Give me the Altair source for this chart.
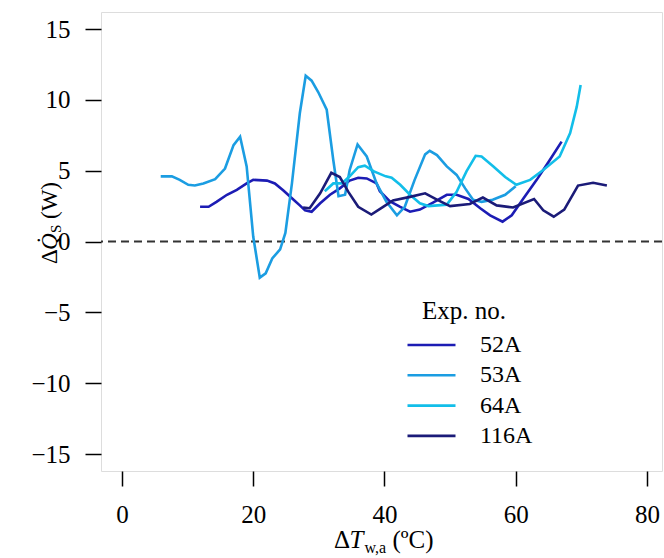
import altair as alt
import pandas as pd

series_names = ["52A", "53A", "64A", "116A"]
series_colors = ["#1c1cb4", "#1b9de2", "#12bee9", "#1b1b78"]

x_52A = [11.9, 13.2, 14.4, 16.0, 17.5, 19.0, 20.0, 22.1, 23.3, 24.6, 25.9, 27.1, 27.9, 28.9,
         30.2, 31.7, 33.2, 34.7, 36.0, 37.3, 38.8, 39.3, 40.8, 42.4, 43.9, 45.4, 47.4, 49.5,
         51.0, 52.8, 54.6, 56.1, 58.0, 59.4, 61.2, 63.2, 65.2, 67.0]
y_52A = [2.45, 2.45, 2.8, 3.3, 3.65, 4.1, 4.35, 4.3, 4.1, 3.6, 3.05, 2.55, 2.2, 2.1,
         2.7, 3.3, 3.75, 4.3, 4.5, 4.45, 4.1, 3.55, 2.85, 2.45, 2.1, 2.25, 2.75, 3.3,
         3.3, 3.0, 2.35, 1.85, 1.4, 1.85, 3.05, 4.35, 5.75, 7.05]

x_53A = [5.9, 7.6, 8.8, 10.1, 11.1, 12.4, 14.2, 15.7, 17.0, 18.0, 19.0, 20.0, 21.0, 21.9,
         22.9, 24.1, 24.9, 25.9, 27.1, 28.0, 28.9, 29.9, 31.2, 32.2, 33.0, 34.0, 34.7,
         35.9, 37.3, 38.8, 40.3, 41.9, 43.1, 44.6, 46.2, 46.9, 48.0, 49.5, 51.0, 52.3,
         53.5, 54.8, 56.5, 58.4, 60.0]
y_53A = [4.6, 4.6, 4.35, 4.0, 3.95, 4.1, 4.4, 5.15, 6.8, 7.4, 5.3, 0.35, -2.55, -2.25,
         -1.2, -0.55, 0.6, 4.1, 9.05, 11.7, 11.35, 10.55, 9.3, 5.75, 3.2, 3.3, 5.05,
         6.85, 6.0, 4.1, 2.8, 1.85, 2.45, 4.35, 6.15, 6.4, 6.1, 5.3, 4.7, 3.75,
         2.95, 2.8, 2.95, 3.3, 3.9]

x_64A = [30.9, 32.2, 33.5, 34.7, 36.0, 37.0, 38.4, 40.2, 41.1, 42.4, 43.9, 45.4, 46.7,
         49.5, 51.0, 52.5, 53.9, 54.8, 56.6, 58.4, 60.1, 62.2, 64.2, 66.7, 68.3, 69.3, 69.9]
y_64A = [3.55, 4.1, 4.1, 4.6, 5.25, 5.35, 4.95, 4.6, 4.5, 4.0, 3.3, 2.7, 2.5,
         2.6, 3.5, 4.95, 6.05, 6.0, 5.3, 4.55, 4.0, 4.35, 5.05, 6.0, 7.65, 9.5, 11.05]

x_116A = [27.6, 28.6, 30.2, 31.9, 33.2, 34.5, 36.0, 38.0, 39.8, 41.3, 43.9, 46.2, 48.0,
          50.0, 53.0, 55.0, 57.1, 59.6, 62.8, 64.2, 65.8, 67.4, 69.5, 71.8, 73.9]
y_116A = [2.4, 2.35, 3.4, 4.85, 4.55, 3.5, 2.45, 1.9, 2.45, 2.9, 3.15, 3.4, 2.95,
          2.5, 2.65, 3.1, 2.55, 2.4, 3.0, 2.2, 1.75, 2.25, 3.95, 4.15, 3.95]

x_ticks = [0, 20, 40, 60, 80]
y_ticks = [-15, -10, -5, 0, 5, 10, 15]
legend_title = "Exp. no."

rows = []
for name, xs, ys in [("52A", x_52A, y_52A), ("53A", x_53A, y_53A),
                     ("64A", x_64A, y_64A), ("116A", x_116A, y_116A)]:
    for xv, yv in zip(xs, ys):
        rows.append({"series": name, "x": xv, "y": yv})
df = pd.DataFrame(rows)

FONT = "Liberation Serif"
FS = 25

xscale = alt.Scale(domain=[-3.2, 82.3], nice=False, zero=False)
yscale = alt.Scale(domain=[-16.2, 16.2], nice=False, zero=False)

lines = alt.Chart(df).mark_line(strokeWidth=2.6).encode(
    x=alt.X("x:Q", scale=xscale,
            axis=alt.Axis(values=x_ticks, title=None, domain=False, grid=False,
                          tickSize=15, tickWidth=1.5, tickColor="black",
                          labelFont=FONT, labelFontSize=FS, labelColor="black",
                          labelPadding=16)),
    y=alt.Y("y:Q", scale=yscale,
            axis=alt.Axis(values=y_ticks, title=None, domain=False, grid=False,
                          tickSize=16, tickWidth=1.5, tickColor="black",
                          labelFont=FONT, labelFontSize=FS, labelColor="black",
                          labelPadding=15)),
    color=alt.Color("series:N",
                    scale=alt.Scale(domain=series_names, range=series_colors),
                    legend=alt.Legend(orient="none", legendX=305, legendY=319,
                                      title=None, padding=0,
                                      symbolType="stroke", symbolSize=2304,
                                      symbolStrokeWidth=2.6,
                                      labelFont=FONT, labelFontSize=24,
                                      labelColor="black", labelOffset=23,
                                      clipHeight=28, rowPadding=2.3)),
    detail="series:N",
    order="x:Q",
)

zero = alt.Chart(pd.DataFrame({"y": [0]})).mark_rule(
    color="#333333", strokeWidth=2, strokeDash=[8, 5]
).encode(y=alt.Y("y:Q", scale=yscale))


def piece(txt, x, y, size=FS, style="normal", angle=0):
    return alt.Chart(pd.DataFrame({"t": [txt]})).mark_text(
        font=FONT, fontSize=size, fontStyle=style, align="left",
        baseline="alphabetic", color="black", angle=angle
    ).encode(text="t:N", x=alt.value(x), y=alt.value(y))


leg_title = piece(legend_title, 321, 307, size=25)

xt_y = 536
xt = [
    piece("Δ", 233, xt_y),
    piece("T", 248.5, xt_y, style="italic"),
    piece("w,a", 263.5, xt_y + 5, size=16),
    piece("(ºC)", 291.5, xt_y),
]
yt_x = -44
yt = [
    piece("Δ", yt_x, 252, size=23, angle=270),
    piece("Q\u0307", yt_x, 238, size=23, style="italic", angle=270),
    piece("S", yt_x + 4, 221, size=15, angle=270),
    piece("(W)", yt_x, 207, size=23, angle=270),
]

chart = alt.layer(zero, lines, leg_title, *xt, *yt).properties(
    width=561, height=459,
    padding={"left": 101, "top": 12, "right": 2, "bottom": 87},
    autosize=alt.AutoSizeParams(type="none"),
).configure_view(stroke="black", strokeWidth=1.5).configure(
    background="white", font=FONT
)

chart.save("out.html", embed_options={"renderer": "svg", "actions": False})
